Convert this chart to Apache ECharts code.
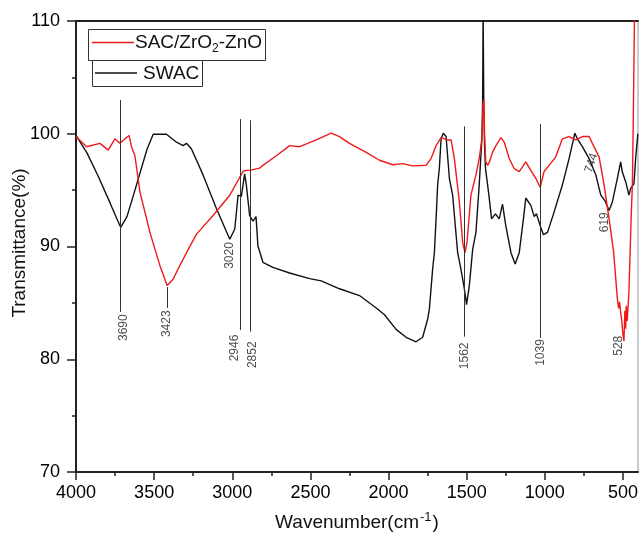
<!DOCTYPE html>
<html><head><meta charset="utf-8">
<script src="https://cdn.jsdelivr.net/npm/echarts@6/dist/echarts.min.js"></script>
<style>html,body{margin:0;padding:0;background:#fff}#c{width:640px;height:536px}</style>
</head><body><div id="c"></div>
<script>
// Tick labels
const xMajorTicks = [4000, 3500, 3000, 2500, 2000, 1500, 1000, 500];
const xMinorTicks = [3750, 3250, 2750, 2250, 1750, 1250, 750];
// SWAC spectrum [wavenumber, transmittance]
const swac = [[4000,99.85],[3930,98.3],[3860,96.3],[3780,93.8],[3740,92.5],[3714,91.7],[3674,92.65],[3640,94.2],[3610,95.6],[3546,98.6],[3506,99.95],[3421,99.95],[3357,99.25],[3315,98.95],[3293,99.15],[3261,98.65],[3187,96.35],[3101,93.35],[3016,90.65],[2984,91.55],[2963,94.55],[2942,94.45],[2921,96.45],[2910,95.45],[2889,92.75],[2868,92.25],[2857,92.45],[2848,92.65],[2836,90.05],[2825,89.55],[2804,88.6],[2740,88.15],[2633,87.65],[2505,87.15],[2431,86.95],[2314,86.25],[2186,85.65],[2079,84.55],[2026,83.95],[1952,82.65],[1888,81.95],[1824,81.55],[1782,81.95],[1750,83.55],[1739,84.45],[1718,88.0],[1707,89.45],[1696,92.45],[1686,95.45],[1675,96.95],[1664,99.55],[1650,100.05],[1632,99.75],[1611,96.05],[1590,94.55],[1558,89.45],[1537,88.0],[1515,86.25],[1501,84.85],[1483,86.55],[1462,89.75],[1441,91.25],[1420,95.45],[1403,99.55],[1398,103],[1395,111],[1391,103],[1386,99],[1380,96.95],[1358,94.55],[1341,92.45],[1316,92.9],[1292,92.45],[1271,93.75],[1250,91.85],[1217,89.45],[1190,88.45],[1164,89.45],[1137,92.45],[1122,94.3],[1090,93.65],[1068,92.65],[1054,92.9],[1030,91.85],[1009,91.05],[983,91.25],[941,93.05],[888,95.45],[845,97.8],[808,100.05],[792,99.55],[760,98.85],[717,97.8],[674,96.35],[642,94.55],[615,94.05],[589,93.2],[568,93.95],[536,96.05],[515,97.5],[505,96.65],[483,95.75],[462,94.55],[451,95.15],[430,95.55],[418,98],[405,100]];
// SAC/ZrO2-ZnO spectrum
const sac = [[4000,99.75],[3932,98.85],[3847,99.15],[3794,98.55],[3751,99.55],[3719,99.15],[3687,99.55],[3660,99.85],[3645,98.85],[3623,98.05],[3591,94.85],[3527,91.25],[3463,88.3],[3417,86.55],[3379,87.1],[3336,88.3],[3293,89.45],[3229,91.1],[3123,92.75],[3016,94.55],[2931,96.65],[2910,96.75],[2889,96.75],[2825,96.95],[2804,97.2],[2718,98.05],[2633,98.95],[2569,98.85],[2463,99.45],[2367,100.05],[2314,99.75],[2250,99.15],[2143,98.35],[2058,97.65],[1973,97.25],[1909,97.35],[1846,97.15],[1760,97.2],[1728,97.8],[1696,98.95],[1664,99.65],[1622,99.45],[1600,99.45],[1579,97.8],[1547,93.95],[1526,90.35],[1511,89.45],[1498,90.35],[1473,94.55],[1441,96.35],[1420,97.8],[1403,99.55],[1395,102.8],[1390,103],[1386,100],[1378,97.5],[1366,97.2],[1355,97.5],[1335,98.35],[1313,98.95],[1281,99.65],[1260,99.25],[1228,97.8],[1196,96.9],[1164,96.65],[1122,97.5],[1090,96.75],[1058,96.05],[1030,95.25],[1005,96.65],[973,97.2],[930,97.95],[888,99.55],[845,99.75],[802,99.45],[760,99.75],[717,99.75],[696,99.15],[653,97.95],[621,95.45],[589,92.45],[560,89.5],[536,85.35],[528,84.5],[522,85.1],[515,84.15],[508,83.5],[501,82.2],[494,81.6],[488,84.3],[483,82.7],[479,84.75],[473,83.4],[466,83.25],[462,86],[457,88.3],[448,92.5],[440,95.5],[434,101.5],[426,111],[420,112]];
// annotation lines [wavenumber, yTop, yBottom]
const annLines = [[3715,103.0,84.2],[3415,86.4,84.55],[2948,101.3,82.6],[2888,101.2,82.45],[1515,100.65,82.0],[1029,100.85,81.9]];
// annotation labels [wavenumber, y, text, rotation]
const annLabels = [[3693,82.8,'3690',90],[3418,83.15,'3423',90],[3018,89.2,'3020',90],[2982,81.0,'2946',90],[2871,80.4,'2852',90],[1516,80.3,'1562',90],[1026,80.6,'1039',90],[702,97.4,'744',72],[617,92.15,'619',90],[526,81.2,'528',90]];

const FONT = 'Liberation Sans, Arial, sans-serif';
const chart = echarts.init(document.getElementById('c'), null, {renderer: 'canvas'});
const plain = v => String(v);
chart.setOption({
  animation: false,
  backgroundColor: '#fff',
  grid: {left: 76, right: 2, top: 21, bottom: 64, show: true, borderColor: '#999', borderWidth: 1, backgroundColor: 'transparent', containLabel: false, outerBoundsMode: 'none'},
  xAxis: [
    {type: 'value', inverse: true, min: 404, max: 4000, position: 'bottom',
     axisLine: {show: true, onZero: false, lineStyle: {color: '#222', width: 2}},
     axisTick: {show: true, length: 8, customValues: xMajorTicks, lineStyle: {color: '#222', width: 1.5}},
     axisLabel: {show: true, customValues: xMajorTicks, formatter: plain, fontSize: 18, margin: 12, color: '#000', fontFamily: FONT},
     splitLine: {show: false}},
    {type: 'value', inverse: true, min: 404, max: 4000, position: 'bottom',
     axisLine: {show: false},
     axisTick: {show: true, length: 4, customValues: xMinorTicks, lineStyle: {color: '#222', width: 1.5}},
     axisLabel: {show: false}, splitLine: {show: false}},
    {type: 'value', inverse: true, min: 404, max: 4000, position: 'top',
     axisLine: {show: true, onZero: false, lineStyle: {color: '#222', width: 2}},
     axisTick: {show: false}, axisLabel: {show: false}, splitLine: {show: false}}
  ],
  yAxis: [{type: 'value', min: 70, max: 110, interval: 10,
     axisLine: {show: true, onZero: false, lineStyle: {color: '#222', width: 2}},
     axisTick: {show: true, length: 9, lineStyle: {color: '#222', width: 1.5}},
     minorTick: {show: true, splitNumber: 2, length: 4, lineStyle: {color: '#222', width: 1.5}},
     axisLabel: {fontSize: 18, margin: 16, color: '#000', fontFamily: FONT, formatter: plain},
     splitLine: {show: false}, minorSplitLine: {show: false}}],
  series: [
    {name: 'SWAC', type: 'line', data: swac, showSymbol: false, symbol: 'none', clip: true,
     lineStyle: {color: '#111', width: 1.4}, z: 3,
     markLine: {silent: true, symbol: ['none', 'none'], label: {show: false},
       lineStyle: {color: '#333', width: 1, type: 'solid'},
       data: annLines.map(a => [{coord: [a[0], a[1]]}, {coord: [a[0], a[2]]}])}},
    {name: 'SAC/ZrO2-ZnO', type: 'line', data: sac, showSymbol: false, symbol: 'none', clip: true,
     lineStyle: {color: '#ee1a1a', width: 1.4}, z: 4},
    {name: 'labels', type: 'scatter', symbolSize: 0, silent: true, z: 5,
     data: annLabels.map(a => ({value: [a[0], a[1]], label: {rotate: a[3], formatter: a[2]}})),
     label: {show: true, position: 'inside', fontSize: 12, color: '#222', fontFamily: FONT}}
  ],
  graphic: [
    {type: 'rect', shape: {x: 88.5, y: 29.5, width: 177, height: 31}, style: {fill: '#fff', stroke: '#333', lineWidth: 1}, z: 10},
    {type: 'line', shape: {x1: 92, y1: 42.5, x2: 134, y2: 42.5}, style: {stroke: '#ee1a1a', lineWidth: 1.4}, z: 11},
    {type: 'text', x: 135, y: 43, z: 11, style: {text: '{a|SAC/ZrO}{s|2}{a|-ZnO}', verticalAlign: 'middle', textAlign: 'left',
      rich: {a: {fontSize: 19, fontFamily: FONT, fill: '#111', lineHeight: 22}, s: {fontSize: 12, fontFamily: FONT, fill: '#111', lineHeight: 22, padding: [12, 0, 0, 0]}}}},
    {type: 'rect', shape: {x: 92.5, y: 60.5, width: 110, height: 26}, style: {fill: '#fff', stroke: '#333', lineWidth: 1}, z: 10},
    {type: 'line', shape: {x1: 95, y1: 73, x2: 137, y2: 73}, style: {stroke: '#111', lineWidth: 1.4}, z: 11},
    {type: 'text', x: 143, y: 73.5, z: 11, style: {text: 'SWAC', verticalAlign: 'middle', textAlign: 'left', fontSize: 19, fontFamily: FONT, fill: '#111'}},
    {type: 'text', x: 357, y: 523, z: 11, style: {text: '{a|Wavenumber(cm}{p|-1}{a|)}', verticalAlign: 'middle', textAlign: 'center',
      rich: {a: {fontSize: 19, fontFamily: FONT, fill: '#111', lineHeight: 24}, p: {fontSize: 13, fontFamily: FONT, fill: '#111', lineHeight: 24, padding: [0, 1, 12, 1]}}}},
    {type: 'text', x: 20, y: 243, rotation: Math.PI / 2, z: 11, style: {text: 'Transmittance(%)', verticalAlign: 'middle', textAlign: 'center', fontSize: 19, fontFamily: FONT, fill: '#111'}}
  ]
});
</script></body></html>
